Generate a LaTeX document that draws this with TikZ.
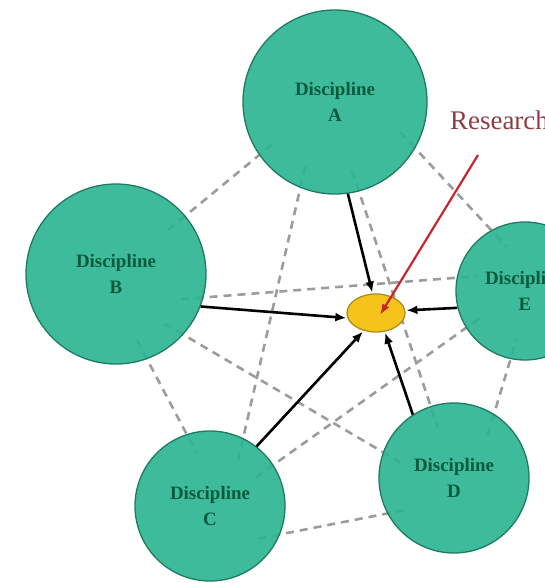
\documentclass[tikz,border=0pt]{standalone}
\usepackage{fontspec}
\setmainfont{Liberation Serif}
\usetikzlibrary{shapes.geometric,arrows.meta,backgrounds}

\definecolor{discfill}{HTML}{2CB592}
\definecolor{discline}{HTML}{1F7A62}
\definecolor{disctext}{HTML}{0B5A3E}
\definecolor{corefill}{HTML}{F6C31A}
\definecolor{coreline}{HTML}{A88E1C}
\definecolor{linkgray}{HTML}{9C9C9C}
\definecolor{pointer}{HTML}{C8262C}
\definecolor{labelred}{HTML}{8E3C44}

\begin{document}
\begin{tikzpicture}[x=1bp,y=-1bp,
  disc/.style={circle, draw=discline, line width=1.3bp, fill=discfill,
    fill opacity=0.92, text opacity=1, text=disctext, inner sep=0pt,
    align=center, font=\fontsize{19}{26}\selectfont\bfseries},
  core/.style={ellipse, draw=coreline, line width=1.3bp, fill=corefill,
    minimum width=58bp, minimum height=38bp, inner sep=0pt},
  link/.style={draw=linkgray, line width=2.6bp, dash pattern=on 8bp off 6bp,
    shorten <=-22bp, shorten >=-22bp},
  feed/.style={draw=black, line width=2.6bp, -{Latex[length=11bp,width=9bp]},
    shorten >=1bp},
  pointerline/.style={draw=pointer, line width=2.2bp,
    -{Latex[length=11bp,width=8bp]}},
  tag/.style={text=labelred, font=\fontsize{27}{32}\selectfont, inner sep=0pt}
]
\useasboundingbox (0,0) rectangle (545,583);
\clip (0,0) rectangle (545,583);

% disciplines and the shared research core
\node[disc, minimum size=184bp] (A) at (335,102) {Discipline\\A};
\node[disc, minimum size=180bp] (B) at (116,274) {Discipline\\B};
\node[disc, minimum size=138bp] (E) at (525,291) {Discipline\\E};
\node[disc, minimum size=150bp] (C) at (210,506) {Discipline\\C};
\node[disc, minimum size=150bp] (D) at (454,478) {Discipline\\D};
\node[core] (R) at (376,313) {};

% dashed links between every pair of disciplines
\begin{scope}[on background layer]
  \draw[link] (B.-15) -- (E.169);
  \draw[link] (B.-42) -- (D.160);
  \draw[link] (B.40) -- (A.215);
  \draw[link] (B.-70) -- (C.108);
  \draw[link] (A.248) -- (C.64);
  \draw[link] (A.285) -- (D.108);
  \draw[link] (A.-30) -- (E.119);
  \draw[link] (C.33) -- (E.212);
  \draw[link] (C.-22) -- (D.208);
  \draw[link] (D.58) -- (E.258);
\end{scope}

% contributions flowing into the core
\draw[feed] (A.-82) -- (R.100);
\draw[feed] (B.-21) -- (R.190);
\draw[feed] (E.194) -- (R.5);
\draw[feed] (C.52) -- (R.235);
\draw[feed] (D.123) -- (R.295);

% label and pointer
\node[tag, anchor=base west] (lab) at (450,130) {Research};
\coordinate (rtop) at (478,155);
\coordinate (rtip) at (380,315);
\draw[pointerline] (rtop) -- (rtip);
\end{tikzpicture}
\end{document}
